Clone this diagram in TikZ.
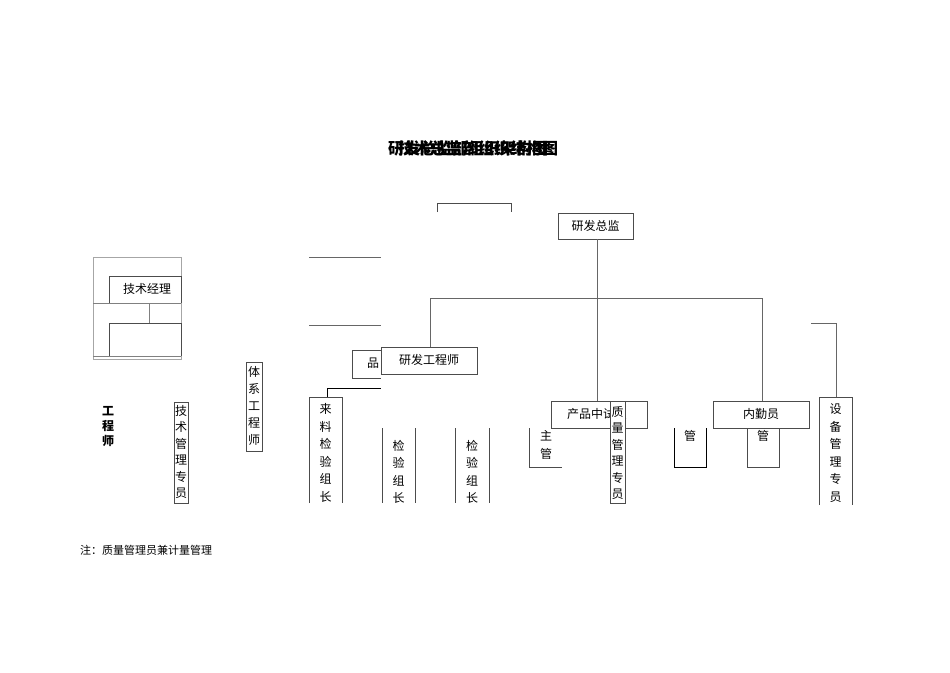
\documentclass[tikz,border=0pt]{standalone}
\usepackage{fontspec}
\setmainfont{Noto Sans CJK SC}
\begin{document}
\begin{tikzpicture}[x=1pt,y=-1pt,
  bx/.style={draw=black!70,line width=0.8pt},
  ln/.style={draw=black!60,line width=0.9pt},
  lbl/.style={font=\fontsize{12}{12}\selectfont,inner sep=0pt},
  vt/.style={font=\fontsize{12}{17.5}\selectfont,align=center,inner sep=0pt}]
\useasboundingbox (0,0) rectangle (950,672);
% title (two overlapping titles, as in the reference)
\node[font=\bfseries\fontsize{16}{16}\selectfont,inner sep=0] (t1) at (468,148) {研发总监部组织架构图};
\node[font=\bfseries\fontsize{16}{16}\selectfont,inner sep=0] (t2) at (478,148) {技术总监部组织结构图};
% partial 技术总监 box
\draw[bx] (437,212) -- (437,203) -- (511,203) -- (511,212);
% main boxes
\draw[bx] (558,213) rectangle (633,239); \node[lbl] (zj) at (595.5,226) {研发总监};
\draw[bx] (381,347) rectangle (477,374); \node[lbl] (gcs) at (429,360) {研发工程师};
\draw[bx] (352,350) -- (381,350) (352,350) -- (352,378) -- (381,378); \node[lbl] (pin) at (373,363) {品};
\draw[bx] (551,401) rectangle (647,428); \node[lbl] (zsy) at (597,414) {产品中试员};
\draw[bx] (713,401) rectangle (809,428); \node[lbl] (nqy) at (761,414) {内勤员};
\draw[bx,fill=white] (610,401) rectangle (625,503); \node[vt,font=\fontsize{12}{16.5}\selectfont] (zl) at (617.5,453) {质\\量\\管\\理\\专\\员};
\draw[bx] (819,505) -- (819,397) -- (852,397) -- (852,505); \node[vt] (sb) at (835.5,453) {设\\备\\管\\理\\专\\员};
% connectors
\draw[ln] (597,239) -- (597,401);
\draw[ln] (430,347) -- (430,298) -- (762,298) -- (762,401);
\draw[ln] (811,323) -- (836,323) -- (836,397);
% left group
\draw[draw=black!35] (93,257) rectangle (181,359);
\draw[bx] (109,303) -- (109,276) -- (181,276) -- (181,303); \node[lbl] (jsjl) at (147,289) {技术经理};
\draw[draw=black!50] (93,303) -- (181,303) (149,303) -- (149,323);
\draw[bx] (109,356) -- (109,323) -- (181,323) -- (181,356);
\draw[draw=black!50] (93,356) -- (181,356);
\draw[ln] (309,257) -- (381,257) (309,325) -- (381,325);
\node[vt,font=\bfseries\fontsize{12}{15}\selectfont] (gc) at (108,427) {工\\程\\师};
\draw[bx] (174,402) rectangle (188,503); \node[vt,font=\fontsize{12}{16.5}\selectfont] (js) at (181,452) {技\\术\\管\\理\\专\\员};
\draw[bx] (246,362) rectangle (262,451); \node[vt,font=\fontsize{12}{17}\selectfont] (tx) at (254,406) {体\\系\\工\\程\\师};
% inspection leads
\draw[bx] (309,503) -- (309,397) -- (342,397) -- (342,503); \node[vt] (ll) at (325.5,453) {来\\料\\检\\验\\组\\长};
\draw[draw=black,line width=1pt] (327,397) -- (327,388) -- (381,388);
\draw[bx] (382,428) -- (382,503) (415,428) -- (415,503); \node[vt] (z2) at (398.5,472) {检\\验\\组\\长};
\draw[bx] (455,428) -- (455,503) (489,428) -- (489,503); \node[vt] (z3) at (472,472) {检\\验\\组\\长};
\draw[bx] (529,428) -- (529,467) -- (562,467); \node[vt] (zg) at (546,445) {主\\管};
\draw[draw=black,line width=0.9pt] (674,428) -- (674,467) -- (706,467) -- (706,428); \node[lbl] (g1) at (690,436) {管};
\draw[bx] (747,428) -- (747,467) -- (779,467) -- (779,428); \node[lbl] (g2) at (763,436) {管};
% note
\node[anchor=west,font=\fontsize{11}{11}\selectfont,inner sep=0] (note) at (80,550) {注：质量管理员兼计量管理};
\end{tikzpicture}
\end{document}
